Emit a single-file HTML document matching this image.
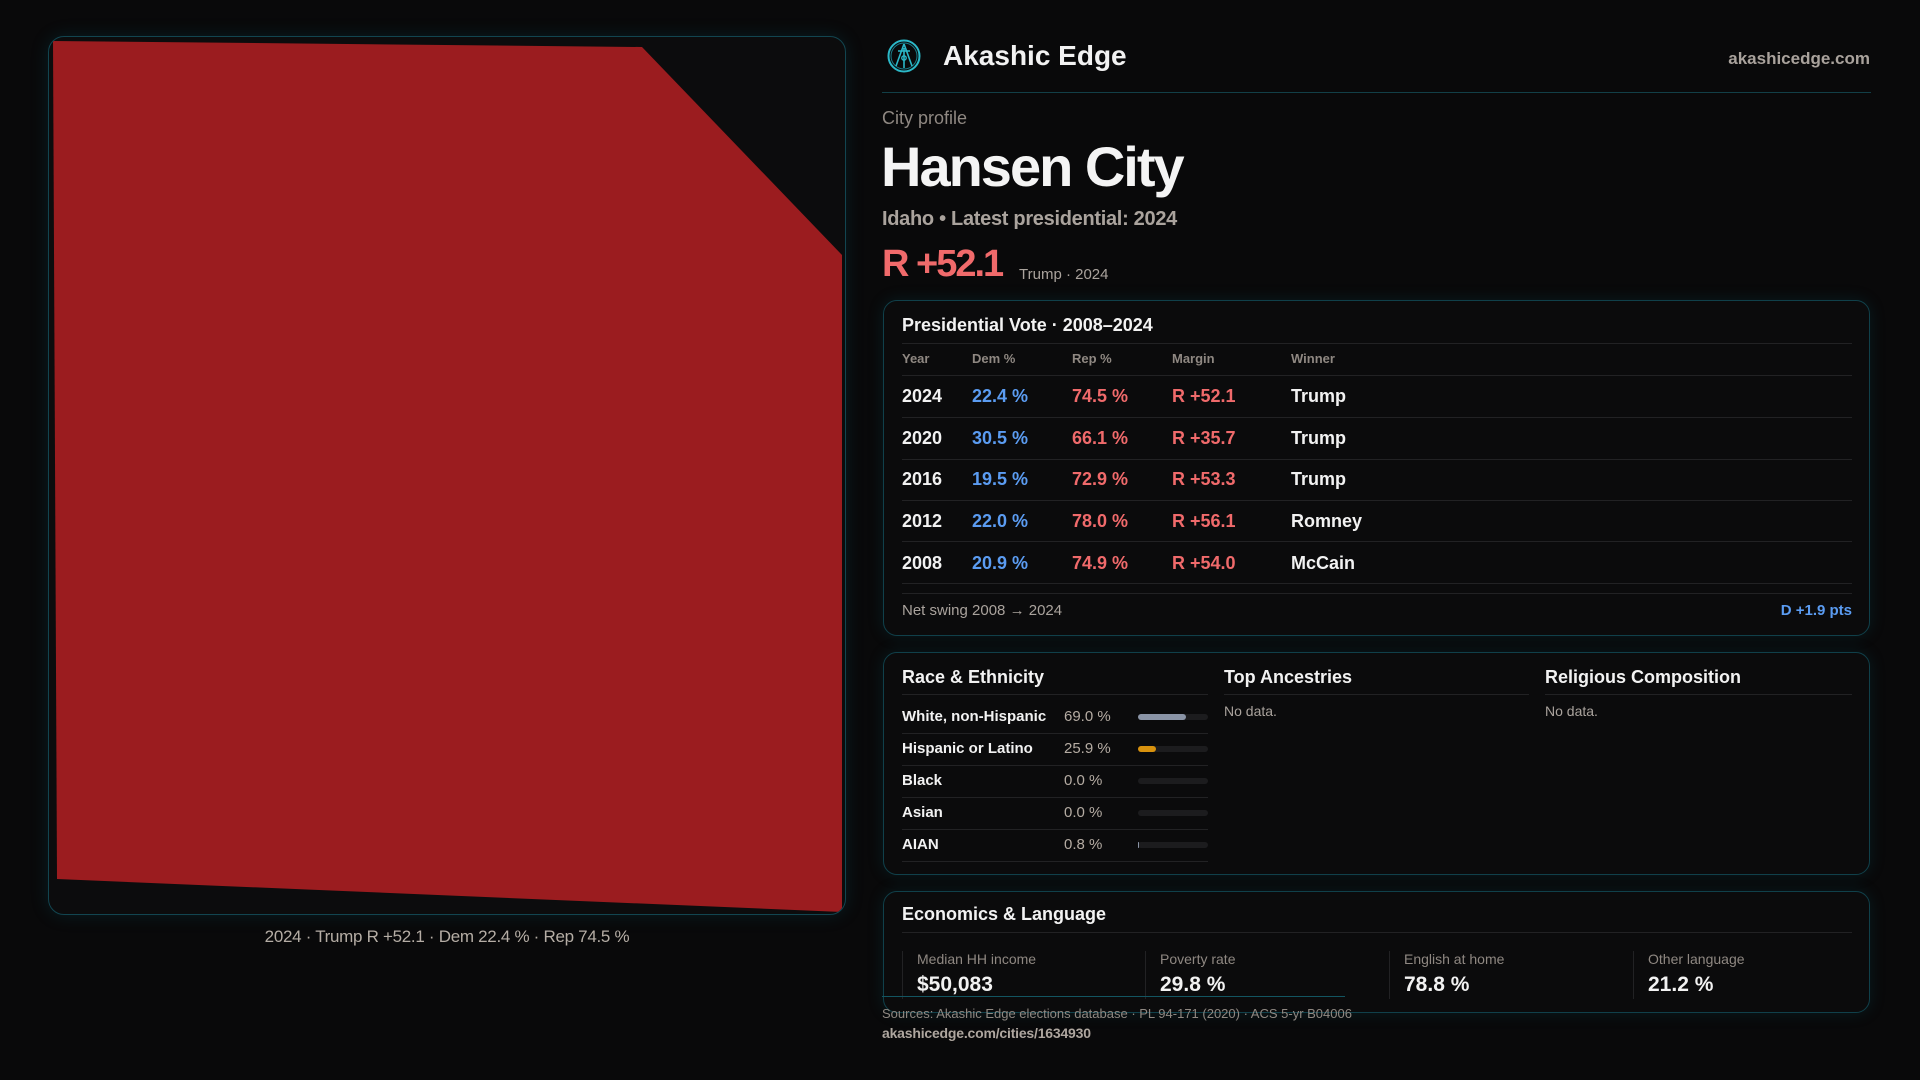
<!DOCTYPE html>
<html><head><meta charset="utf-8">
<style>
html,body{margin:0;padding:0;}
body{width:1920px;height:1080px;background:#09090a;position:relative;overflow:hidden;font-family:"Liberation Sans",sans-serif;color:#f2f2f2;}
.t{position:absolute;line-height:1;white-space:nowrap;}
.b{font-weight:bold;}
.card{position:absolute;left:883px;width:987px;border:1px solid #10404a;border-radius:14px;background:#0b0b0c;box-shadow:0 0 16px rgba(0,110,130,0.18);box-sizing:border-box;}
.hl{position:absolute;height:1px;background:#222224;}
.vl{position:absolute;width:1px;background:#222224;}
.mut{color:#8f8882;}
.gry{color:#aaa39d;}
.blu{color:#5b9cf2;}
.red{color:#f06a6b;}
.track{position:absolute;left:1138px;width:70px;height:6px;border-radius:3px;background:#1c1c1e;}
.fill{position:absolute;left:0;top:0;height:6px;border-radius:3px;}
</style></head>
<body>

<!-- Left map panel -->
<div style="position:absolute;left:48px;top:36px;width:798px;height:879px;border:1px solid #124550;border-radius:16px;background:#0c0c0d;box-sizing:border-box;box-shadow:0 0 18px rgba(0,110,130,0.2);"></div>
<svg style="position:absolute;left:0;top:0" width="900" height="930">
  <defs><clipPath id="cp"><rect x="49" y="37" width="796" height="877" rx="15" ry="15"/></clipPath></defs>
  <polygon clip-path="url(#cp)" points="53,41 642,47 842,255 842,912 57,879" fill="#9b1c1f"/>
</svg>
<div class="t" style="left:247px;width:400px;text-align:center;top:928px;font-size:17px;color:#b5ada5;letter-spacing:-0.3px;">2024 · Trump R +52.1 · Dem 22.4 % · Rep 74.5 %</div>

<!-- Header -->
<svg style="position:absolute;left:886px;top:38px" width="36" height="36" viewBox="0 0 36 36">
  <circle cx="18" cy="18" r="15.5" fill="none" stroke="#2bb8c8" stroke-width="2"/>
  <circle cx="18" cy="18" r="13" fill="none" stroke="#1a7d8a" stroke-width="1"/>
  <path d="M18 6 L10 28 M18 6 L26 28 M12 13 L24 13 M18 10 L18 30" stroke="#2bb8c8" stroke-width="1.6" fill="none"/>
  <circle cx="18" cy="20" r="2.2" fill="none" stroke="#2bb8c8" stroke-width="1.4"/>
</svg>
<div class="t b" style="left:943px;top:42px;font-size:28px;color:#f2f2f2;">Akashic Edge</div>
<div class="t b" style="right:50px;top:50px;font-size:17px;color:#a9a29c;">akashicedge.com</div>
<div style="position:absolute;left:882px;top:92px;width:989px;height:1px;background:#123f47;"></div>

<div class="t mut" style="left:882px;top:109px;font-size:18px;">City profile</div>
<div class="t b" style="left:881px;top:139px;font-size:56px;letter-spacing:-2px;color:#f4f4f4;">Hansen City</div>
<div class="t b gry" style="left:882px;top:209px;font-size:20px;letter-spacing:-0.3px;">Idaho • Latest presidential: 2024</div>
<div class="t b red" style="left:882px;top:245px;font-size:38px;letter-spacing:-2px;">R +52.1</div>
<div class="t gry" style="left:1019px;top:267px;font-size:15px;">Trump · 2024</div>

<!-- Presidential card -->
<div class="card" style="top:300px;height:336px;"></div>
<div class="t b" style="left:902px;top:316px;font-size:18px;">Presidential Vote · 2008–2024</div>
<div class="hl" style="left:902px;top:343px;width:950px;"></div>
<div class="t b mut" style="left:902px;top:352px;font-size:13px;">Year</div>
<div class="t b mut" style="left:972px;top:352px;font-size:13px;">Dem %</div>
<div class="t b mut" style="left:1072px;top:352px;font-size:13px;">Rep %</div>
<div class="t b mut" style="left:1172px;top:352px;font-size:13px;">Margin</div>
<div class="t b mut" style="left:1291px;top:352px;font-size:13px;">Winner</div>
<div class="hl" style="left:902px;top:375px;width:950px;"></div>

<div class="t b" style="left:902px;top:387px;font-size:18px;">2024</div>
<div class="t b blu" style="left:972px;top:387px;font-size:18px;">22.4 %</div>
<div class="t b red" style="left:1072px;top:387px;font-size:18px;">74.5 %</div>
<div class="t b red" style="left:1172px;top:387px;font-size:18px;">R +52.1</div>
<div class="t b" style="left:1291px;top:387px;font-size:18px;">Trump</div>
<div class="hl" style="left:902px;top:417px;width:950px;"></div>

<div class="t b" style="left:902px;top:429px;font-size:18px;">2020</div>
<div class="t b blu" style="left:972px;top:429px;font-size:18px;">30.5 %</div>
<div class="t b red" style="left:1072px;top:429px;font-size:18px;">66.1 %</div>
<div class="t b red" style="left:1172px;top:429px;font-size:18px;">R +35.7</div>
<div class="t b" style="left:1291px;top:429px;font-size:18px;">Trump</div>
<div class="hl" style="left:902px;top:459px;width:950px;"></div>

<div class="t b" style="left:902px;top:470px;font-size:18px;">2016</div>
<div class="t b blu" style="left:972px;top:470px;font-size:18px;">19.5 %</div>
<div class="t b red" style="left:1072px;top:470px;font-size:18px;">72.9 %</div>
<div class="t b red" style="left:1172px;top:470px;font-size:18px;">R +53.3</div>
<div class="t b" style="left:1291px;top:470px;font-size:18px;">Trump</div>
<div class="hl" style="left:902px;top:500px;width:950px;"></div>

<div class="t b" style="left:902px;top:512px;font-size:18px;">2012</div>
<div class="t b blu" style="left:972px;top:512px;font-size:18px;">22.0 %</div>
<div class="t b red" style="left:1072px;top:512px;font-size:18px;">78.0 %</div>
<div class="t b red" style="left:1172px;top:512px;font-size:18px;">R +56.1</div>
<div class="t b" style="left:1291px;top:512px;font-size:18px;">Romney</div>
<div class="hl" style="left:902px;top:541px;width:950px;"></div>

<div class="t b" style="left:902px;top:554px;font-size:18px;">2008</div>
<div class="t b blu" style="left:972px;top:554px;font-size:18px;">20.9 %</div>
<div class="t b red" style="left:1072px;top:554px;font-size:18px;">74.9 %</div>
<div class="t b red" style="left:1172px;top:554px;font-size:18px;">R +54.0</div>
<div class="t b" style="left:1291px;top:554px;font-size:18px;">McCain</div>
<div class="hl" style="left:902px;top:583px;width:950px;"></div>
<div class="hl" style="left:902px;top:593px;width:950px;"></div>

<div class="t gry" style="left:902px;top:603px;font-size:15px;">Net swing 2008 → 2024</div>
<div class="t b blu" style="right:68px;top:603px;font-size:15px;">D +1.9 pts</div>

<!-- Demographics card -->
<div class="card" style="top:652px;height:223px;"></div>
<div class="t b" style="left:902px;top:668px;font-size:18px;">Race &amp; Ethnicity</div>
<div class="t b" style="left:1224px;top:668px;font-size:18px;">Top Ancestries</div>
<div class="t b" style="left:1545px;top:668px;font-size:18px;">Religious Composition</div>
<div class="hl" style="left:902px;top:694px;width:306px;"></div>
<div class="hl" style="left:1224px;top:694px;width:305px;"></div>
<div class="hl" style="left:1545px;top:694px;width:307px;"></div>
<div class="t gry" style="left:1224px;top:704px;font-size:14px;">No data.</div>
<div class="t gry" style="left:1545px;top:704px;font-size:14px;">No data.</div>

<div class="t b" style="left:902px;top:709px;font-size:15px;">White, non-Hispanic</div>
<div class="t" style="left:1064px;top:709px;font-size:15px;color:#b5aca3;">69.0 %</div>
<div class="track" style="top:714px;"><div class="fill" style="width:48px;background:#8a94a6;"></div></div>
<div class="hl" style="left:902px;top:733px;width:306px;"></div>

<div class="t b" style="left:902px;top:741px;font-size:15px;">Hispanic or Latino</div>
<div class="t" style="left:1064px;top:741px;font-size:15px;color:#b5aca3;">25.9 %</div>
<div class="track" style="top:746px;"><div class="fill" style="width:18px;background:#d8920e;"></div></div>
<div class="hl" style="left:902px;top:765px;width:306px;"></div>

<div class="t b" style="left:902px;top:773px;font-size:15px;">Black</div>
<div class="t" style="left:1064px;top:773px;font-size:15px;color:#b5aca3;">0.0 %</div>
<div class="track" style="top:778px;"></div>
<div class="hl" style="left:902px;top:797px;width:306px;"></div>

<div class="t b" style="left:902px;top:805px;font-size:15px;">Asian</div>
<div class="t" style="left:1064px;top:805px;font-size:15px;color:#b5aca3;">0.0 %</div>
<div class="track" style="top:810px;"></div>
<div class="hl" style="left:902px;top:829px;width:306px;"></div>

<div class="t b" style="left:902px;top:837px;font-size:15px;">AIAN</div>
<div class="t" style="left:1064px;top:837px;font-size:15px;color:#b5aca3;">0.8 %</div>
<div class="track" style="top:842px;"><div class="fill" style="width:1px;background:#8a94a6;"></div></div>
<div class="hl" style="left:902px;top:861px;width:306px;"></div>

<!-- Economics card -->
<div class="card" style="top:891px;height:122px;"></div>
<div class="t b" style="left:902px;top:905px;font-size:18px;">Economics &amp; Language</div>
<div class="hl" style="left:902px;top:932px;width:950px;"></div>
<div class="vl" style="left:902px;top:951px;height:48px;"></div>
<div class="vl" style="left:1145px;top:951px;height:48px;"></div>
<div class="vl" style="left:1389px;top:951px;height:48px;"></div>
<div class="vl" style="left:1633px;top:951px;height:48px;"></div>
<div class="t mut" style="left:917px;top:952px;font-size:14px;">Median HH income</div>
<div class="t mut" style="left:1160px;top:952px;font-size:14px;">Poverty rate</div>
<div class="t mut" style="left:1404px;top:952px;font-size:14px;">English at home</div>
<div class="t mut" style="left:1648px;top:952px;font-size:14px;">Other language</div>
<div class="t b" style="left:917px;top:974px;font-size:21px;">$50,083</div>
<div class="t b" style="left:1160px;top:974px;font-size:21px;">29.8 %</div>
<div class="t b" style="left:1404px;top:974px;font-size:21px;">78.8 %</div>
<div class="t b" style="left:1648px;top:974px;font-size:21px;">21.2 %</div>
<div style="position:absolute;left:882px;top:996px;width:463px;height:1px;background:#135561;"></div>

<!-- Footer -->
<div class="t mut" style="left:882px;top:1007px;font-size:13px;">Sources: Akashic Edge elections database · PL 94-171 (2020) · ACS 5-yr B04006</div>
<div class="t b" style="left:882px;top:1026px;font-size:14px;color:#aea69f;letter-spacing:-0.2px;">akashicedge.com/cities/1634930</div>

</body></html>
